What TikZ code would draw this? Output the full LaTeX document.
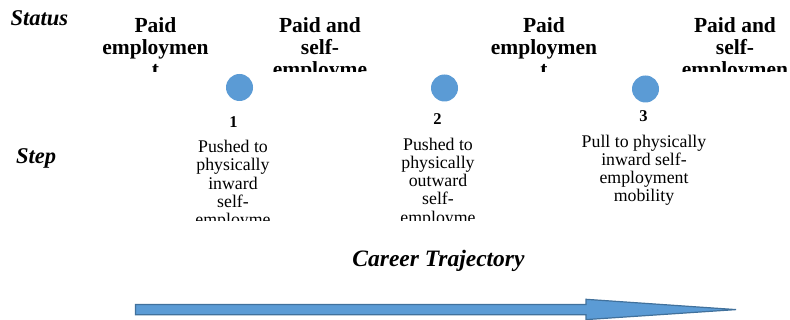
\documentclass[tikz,border=0pt]{standalone}
\usepackage{fontspec}
\setmainfont{Liberation Serif}
\definecolor{dotblue}{HTML}{5B9BD5}
\definecolor{edgeblue}{HTML}{41719C}

\begin{document}
\begin{tikzpicture}[x=1pt,y=-1pt,
  rowlabel/.style={anchor=base west,inner sep=0pt,font=\fontsize{22.5}{24}\selectfont\bfseries\itshape},
  heading/.style={anchor=north,align=center,inner sep=0pt,font=\fontsize{21.5}{22}\selectfont\bfseries},
  dot/.style={circle,fill=dotblue,minimum size=27pt,inner sep=0pt},
  stepnum/.style={anchor=base,inner sep=0pt,font=\fontsize{16.5}{18}\selectfont\bfseries},
  steptext/.style={anchor=north,align=center,inner sep=0pt,font=\fontsize{17.8}{18.3}\selectfont}]
  \useasboundingbox (0,0) rectangle (790,320);
  \clip (0,0) rectangle (790,320);

  \node[rowlabel] (status) at (10.5,25.5) {Status};
  \node[rowlabel] (step) at (16,163.3) {Step};

  % status headings, cut at the bottom of their boxes
  \begin{scope}
    \clip (0,0) rectangle (790,71.5);
    \node[heading] (paid1) at (155.5,17.3) {Paid\\employmen\\t};
    \node[heading] (mixed1) at (320,17.3) {Paid and\\self-\\employme\\nt};
    \node[heading] (paid2) at (544,17.3) {Paid\\employmen\\t};
    \node[heading] (mixed2) at (735,17.3) {Paid and\\self-\\employmen\\t};
  \end{scope}

  \node[dot] (dot1) at (239.5,87.5) {};
  \node[dot] (dot2) at (444.5,88) {};
  \node[dot] (dot3) at (645.5,89) {};

  \node[stepnum] (num1) at (233.5,128) {1};
  \node[stepnum] (num2) at (437.5,124.5) {2};
  \node[stepnum] (num3) at (643.5,121.5) {3};

  % step texts, the first two cut at the bottom
  \begin{scope}
    \clip (0,0) rectangle (790,221);
    \node[steptext] (push1) at (233,140) {Pushed to\\physically\\inward\\self-\\employme};
    \node[steptext] (push2) at (438,137.5) {Pushed to\\physically\\outward\\self-\\employme};
  \end{scope}
  \node[steptext] (pull3) at (644,134.5) {Pull to physically\\inward self-\\employment\\mobility};

  \node[anchor=base,inner sep=0pt,font=\fontsize{23.5}{24}\selectfont\bfseries\itshape] (career) at (438.5,266.7) {Career Trajectory};

  % block arrow
  \draw[fill=dotblue,draw=edgeblue,line width=1.2pt,line join=miter]
    (135.5,304.5) -- (586,304.5) -- (586,299.3) -- (736,309.6)
    -- (586,319.6) -- (586,314.8) -- (135.5,314.8) -- cycle;
\end{tikzpicture}
\end{document}
